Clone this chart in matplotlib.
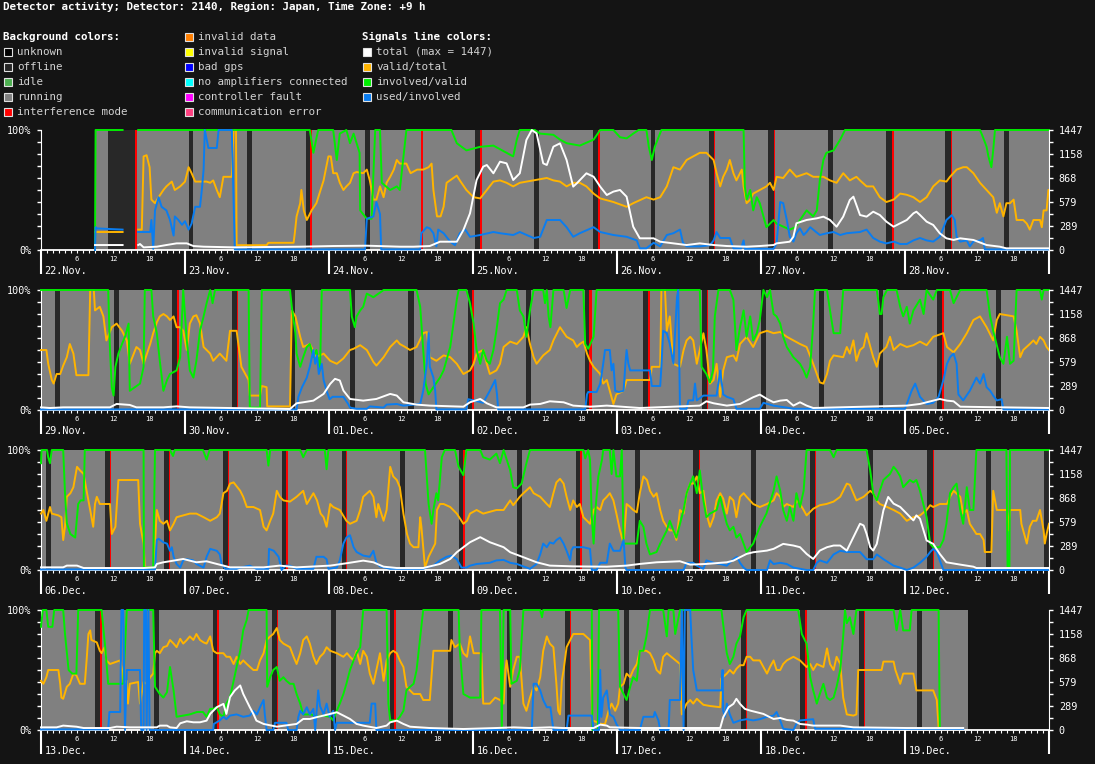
import numpy as np
import matplotlib.pyplot as plt
from matplotlib.patches import Rectangle

nan = np.nan
W, H = 1095, 764
BG = '#141414'
FONT = 'DejaVu Sans Mono'

title = 'Detector activity; Detector: 2140, Region: Japan, Time Zone: +9 h'

# day labels of each panel (7 days per row)
p1_days = ['22.Nov.', '23.Nov.', '24.Nov.', '25.Nov.', '26.Nov.', '27.Nov.', '28.Nov.']
p2_days = ['29.Nov.', '30.Nov.', '01.Dec.', '02.Dec.', '03.Dec.', '04.Dec.', '05.Dec.']
p3_days = ['06.Dec.', '07.Dec.', '08.Dec.', '09.Dec.', '10.Dec.', '11.Dec.', '12.Dec.']
p4_days = ['13.Dec.', '14.Dec.', '15.Dec.', '16.Dec.', '17.Dec.', '18.Dec.', '19.Dec.']

total_max = 1447

# background states, hours from the start of each row
p1_running = (9.0, 168)
p1_offline = [(11.2, 15.7), (24.7, 25.4), (34.3, 35.2), (44.2, 44.9), (54.0, 54.8), (72.3, 73.2),
              (82.2, 83.0), (92.0, 92.8), (101.6, 102.4), (111.3, 112.2), (121.2, 122.1),
              (131.2, 132.0), (140.8, 141.8), (150.7, 151.6), (160.5, 161.3)]
p1_interf = [(15.7, 16.0), (44.9, 45.1), (63.4, 63.7), (73.2, 73.5), (92.8, 93.2), (112.2, 112.4),
             (122.1, 122.3), (141.8, 142.1), (151.6, 151.9)]

p2_running = (0, 168)
p2_offline = [(2.3, 3.2), (12.2, 13.0), (21.9, 22.7), (31.8, 32.6), (41.7, 42.4), (51.5, 52.3),
              (61.2, 62.1), (71.1, 71.8), (80.8, 81.7), (90.7, 91.3), (100.4, 101.2), (110.2, 111.0),
              (120.0, 120.8), (129.7, 130.5), (139.6, 140.3), (149.3, 150.1), (159.2, 160.0)]
p2_interf = [(22.7, 23.0), (32.6, 32.8), (71.8, 72.2), (91.3, 91.8), (101.2, 101.5), (111.0, 111.2),
             (150.1, 150.5)]

p3_running = (0, 168)
p3_offline = [(0.8, 1.6), (10.7, 11.5), (20.5, 21.3), (30.4, 31.2), (40.2, 40.9), (50.1, 50.8),
              (59.8, 60.7), (69.6, 70.3), (79.4, 80.2), (89.2, 89.9), (99.0, 99.8), (108.7, 109.6),
              (118.4, 119.2), (128.1, 129.0), (137.9, 138.7), (147.7, 148.6), (157.5, 158.3),
              (167.2, 168)]
p3_interf = [(11.5, 11.7), (21.3, 21.5), (31.2, 31.4), (40.9, 41.1), (50.8, 51.0), (70.3, 70.6),
             (89.9, 90.1), (109.6, 109.8), (129.0, 129.2), (148.6, 148.8)]

p4_running = (0, 154.5)
p4_offline = [(9.0, 9.8), (18.8, 19.7), (28.7, 29.4), (38.5, 39.3), (48.3, 49.1), (58.1, 58.9),
              (67.8, 68.6), (77.6, 78.4), (87.3, 88.2), (97.2, 98.0), (107.0, 107.6), (116.7, 117.5),
              (126.5, 127.3), (136.4, 137.2), (146.0, 146.8)]
p4_interf = [(9.8, 10.1), (29.4, 29.7), (39.3, 39.5), (58.9, 59.1), (88.2, 88.4), (117.5, 117.7),
             (127.3, 127.6), (137.2, 137.4)]

# ---- row 1: 22.Nov - 28.Nov ----
p1_total = [(9.0, 60), (13.6, 60), (14.0, nan), (16.2, 60), (16.5, 72), (17.1, 32), (19.3, 40), (20.9, 60),
            (22.6, 80), (24.3, 80), (25.4, 48), (27.1, 40), (32.1, 32), (43.2, 40), (48.7, 48), (54.3, 52),
            (59.8, 40), (62.1, 40), (64.8, 48), (66.5, 100), (69.3, 100), (70.4, 241), (71.5, 442),
            (72.6, 844), (73.7, 1005), (74.3, 1025), (75.4, 925), (76.5, 1065), (77.6, 1045), (78.7, 844),
            (79.8, 925), (80.9, 1327), (81.8, 1447), (82.6, 1407), (83.7, 1045), (84.3, 1025), (85.4, 1246),
            (86.5, 1286), (87.6, 1085), (88.7, 764), (89.3, 804), (90.9, 925), (92.1, 884), (93.2, 764),
            (94.3, 663), (95.4, 704), (96.5, 724), (97.6, 643), (98.7, 281), (99.8, 141), (102.1, 141),
            (103.2, 100), (105.4, 80), (107.6, 60), (109.8, 80), (112.1, 60), (114.3, 48), (117.6, 40),
            (119.8, 48), (122.1, 60), (122.6, 80), (124.8, 100), (125.4, 161), (125.9, 322), (127.6, 362),
            (129.3, 382), (130.4, 402), (131.5, 362), (132.6, 281), (133.7, 402), (134.8, 603), (135.4, 643),
            (135.9, 543), (136.5, 422), (137.6, 402), (138.7, 462), (139.8, 422), (140.9, 342), (142.1, 281),
            (143.2, 322), (144.3, 362), (145.4, 442), (145.9, 462), (146.5, 422), (147.6, 342), (148.7, 302),
            (149.8, 201), (150.9, 141), (152.1, 121), (153.2, 141), (155.4, 121), (157.6, 60), (159.8, 40),
            (160.9, 20), (168, 20)]
p1_valid = [(9.0, 15), (13.6, 15), (14.0, nan), (16.2, 17), (16.8, 17), (17.1, 78), (17.6, 79), (18.1, 69),
            (18.4, 42), (19.0, 39), (19.6, 44), (20.4, 50), (20.9, 53), (21.8, 57), (22.3, 50), (23.2, 53),
            (24.0, 57), (24.6, 69), (25.1, 64), (25.7, 57), (27.6, 57), (28.2, 56), (28.7, 58), (29.3, 50),
            (29.8, 44), (30.4, 61), (31.8, 61), (32.1, 100), (32.5, 100), (32.6, 4), (37.6, 4), (37.9, 6),
            (42.1, 6), (42.3, 14), (42.6, 28), (43.2, 39), (43.4, 50), (43.8, 33), (44.3, 25), (45.1, 33),
            (45.9, 39), (47.1, 58), (47.9, 78), (48.3, 78), (48.7, 64), (49.3, 64), (49.8, 56), (50.4, 50),
            (50.9, 53), (51.5, 56), (52.1, 64), (52.6, 65), (53.7, 64), (54.3, 67), (54.8, 58), (55.4, 42),
            (55.9, 42), (56.5, 53), (57.1, 44), (57.6, 56), (58.2, 61), (58.8, 67), (59.3, 75), (59.8, 72),
            (60.9, 72), (61.6, 64), (62.7, 67), (63.7, 67), (64.6, 69), (65.1, 72), (65.4, 50), (66.0, 28),
            (66.6, 28), (67.1, 36), (67.6, 56), (69.3, 62), (69.8, 58), (70.9, 50), (72.1, 44), (73.2, 43),
            (74.3, 50), (75.4, 57), (76.5, 58), (77.6, 56), (78.7, 53), (79.8, 56), (82.1, 58), (84.3, 60),
            (85.4, 58), (86.5, 57), (87.6, 53), (88.7, 56), (89.8, 56), (90.9, 53), (92.1, 47), (93.2, 43),
            (95.4, 40), (97.6, 36), (98.7, 39), (100.9, 44), (102.1, 42), (103.2, 44), (104.3, 53),
            (105.4, 69), (106.5, 67), (107.6, 75), (109.8, 81), (110.9, 81), (112.1, 75), (112.6, 64),
            (113.2, 53), (113.7, 61), (114.3, 67), (114.8, 75), (115.4, 64), (115.9, 58), (116.8, 67),
            (117.1, 53), (117.6, 39), (118.2, 42), (118.7, 47), (119.8, 50), (120.9, 53), (121.5, 56),
            (122.1, 50), (122.6, 61), (123.7, 60), (124.8, 67), (125.9, 61), (127.6, 64), (128.7, 61),
            (130.4, 61), (131.5, 58), (132.6, 56), (133.7, 64), (134.8, 58), (135.9, 61), (136.5, 58),
            (137.6, 53), (138.7, 53), (139.8, 44), (140.9, 40), (142.1, 42), (143.2, 47), (144.3, 46),
            (145.4, 44), (146.5, 40), (147.6, 44), (148.7, 53), (149.8, 58), (150.9, 57), (151.5, 61),
            (152.6, 67), (153.7, 69), (154.3, 69), (155.4, 64), (156.5, 56), (157.6, 50), (158.7, 44),
            (159.3, 31), (159.8, 39), (160.4, 28), (160.9, 39), (161.5, 39), (162.1, 42), (162.6, 25),
            (163.7, 25), (164.3, 22), (164.8, 17), (165.4, 25), (166.5, 25), (166.8, 19), (167.1, 33),
            (167.6, 33), (167.9, 50), (168, 50)]
p1_involved = [(9.0, 0), (9.05, 50), (9.1, 100), (13.6, 100), (14.0, nan), (16.2, 100), (44.8, 100),
               (45.4, 81), (46.2, 100), (48.7, 100), (49.3, 75), (49.8, 97), (50.9, 100), (51.5, 89),
               (52.1, 97), (52.6, 89), (53.1, 81), (53.2, 33), (54.3, 26), (55.1, 26), (55.7, 100),
               (56.5, 100), (56.8, 56), (58.2, 50), (59.3, 53), (59.8, 50), (60.9, 100), (68.4, 100),
               (69.3, 89), (70.9, 83), (73.2, 86), (75.4, 87), (77.6, 81), (78.7, 78), (79.3, 92),
               (79.8, 100), (82.3, 100), (83.2, 97), (85.4, 96), (86.5, 92), (87.6, 89), (89.8, 87),
               (92.1, 92), (93.2, 100), (95.4, 100), (96.5, 94), (97.6, 93), (98.7, 97), (99.6, 100),
               (100.9, 100), (101.3, 86), (101.8, 75), (102.3, 86), (103.4, 100), (117.1, 100), (117.3, 53),
               (117.6, 42), (118.2, 50), (118.7, 33), (119.3, 44), (119.8, 39), (120.9, 19), (122.1, 25),
               (122.6, 22), (124.8, 17), (125.7, 19), (126.5, 25), (127.6, 33), (128.7, 28), (129.3, 33),
               (129.8, 58), (130.4, 75), (130.9, 81), (132.1, 83), (133.2, 92), (134.0, 100), (156.5, 100),
               (157.0, 94), (157.6, 86), (157.9, 78), (158.4, 69), (158.7, 83), (159.0, 100), (168, 100)]
p1_used = [(9.0, 0), (9.1, 19), (9.3, 18), (13.6, 17), (14.0, nan), (16.2, 15), (18.2, 15), (18.4, 25),
           (18.7, 1), (19.0, 33), (19.6, 44), (20.1, 36), (20.9, 33), (21.5, 25), (22.1, 12), (22.3, 28),
           (22.9, 25), (23.5, 21), (24.0, 24), (24.6, 17), (25.1, 22), (25.7, 36), (26.5, 36), (26.8, 50),
           (27.1, 67), (27.3, 100), (27.9, 85), (29.3, 85), (29.6, 100), (31.8, 100), (32.3, 0.5),
           (54.0, 0.5), (54.3, 26), (55.4, 28), (55.9, 40), (56.5, 30), (56.7, 0.5), (63.2, 0.5),
           (63.4, 14), (64.3, 19), (64.8, 18), (65.4, 14), (65.9, 3), (66.2, 17), (67.1, 14), (68.2, 7),
           (69.0, 4), (69.8, 14), (70.7, 17), (71.5, 11), (73.2, 12.5), (75.4, 15), (76.5, 14), (78.7, 12.5),
           (79.8, 15), (82.1, 10), (83.2, 11), (84.3, 25), (86.5, 25), (87.6, 19), (88.7, 11), (89.8, 14),
           (92.1, 19), (93.2, 15), (95.4, 12.5), (97.6, 11), (99.3, 8), (99.8, 1.4), (100.9, 1.4),
           (102.1, 6), (103.2, 3), (104.3, 12.5), (105.4, 14), (106.5, 17), (107.0, 6), (107.6, 3),
           (109.8, 3), (111.5, 4), (112.1, 8), (112.6, 15), (113.2, 10), (114.8, 10), (115.4, 1.4),
           (116.7, 1.4), (117.1, 8), (117.3, 1), (122.1, 1), (122.6, 5.5), (123.2, 40), (123.7, 39),
           (124.3, 25), (124.8, 11), (125.4, 7), (125.9, 14), (126.5, 18), (127.1, 12.5), (127.6, 15),
           (128.2, 19), (128.7, 17), (129.8, 12.5), (131.0, 14), (132.1, 15), (133.2, 12.5), (134.3, 14),
           (136.5, 15), (137.6, 17), (138.7, 10), (139.8, 7), (140.9, 5.5), (142.1, 7), (143.2, 5),
           (144.3, 5), (145.4, 8), (146.5, 10), (147.6, 8), (148.7, 7), (149.8, 11), (150.9, 25),
           (151.8, 29), (152.3, 25), (152.6, 11), (153.2, 7), (154.3, 8), (154.8, 3), (155.4, 7),
           (156.5, 8), (157.0, 10), (157.3, 0.5), (168, 0.5)]

# ---- row 2: 29.Nov - 05.Dec ----
p2_total = [(0, 32), (1.5, 24), (3.7, 32), (11.5, 32), (12.6, 73), (14.8, 61), (15.9, 32), (20.4, 32),
            (22.6, 44), (24.8, 32), (31.5, 24), (41.5, 12), (42.6, 81), (43.7, 93), (45.4, 113), (47.1, 194),
            (48.2, 315), (49.0, 376), (49.8, 356), (50.4, 234), (51.5, 133), (53.7, 113), (55.9, 133),
            (58.2, 194), (59.3, 174), (60.4, 93), (62.6, 65), (64.8, 53), (70.4, 40), (71.5, 93), (73.2, 133),
            (74.3, 81), (75.9, 32), (80.4, 32), (81.5, 65), (83.2, 73), (84.8, 105), (87.1, 93), (88.7, 53),
            (91.5, 40), (94.3, 53), (99.8, 24), (109.8, 53), (110.9, 105), (112.1, 81), (114.3, 53),
            (116.5, 73), (117.6, 113), (118.7, 154), (119.8, 186), (121.0, 133), (122.1, 93), (123.2, 113),
            (124.3, 121), (125.4, 53), (126.5, 93), (127.6, 53), (128.7, 24), (144.3, 53), (146.5, 73),
            (147.6, 93), (149.8, 133), (151.0, 113), (152.1, 105), (153.2, 40), (160.4, 32), (168, 24)]
p2_valid = [(0, 50), (0.9, 50), (1.2, 38.5), (1.8, 25), (2.1, 22), (2.6, 30), (3.2, 30), (3.7, 37), (4.3, 44),
            (4.8, 55), (5.4, 47), (5.9, 29), (7.9, 29), (8.2, 100), (8.8, 100), (9.0, 83), (9.8, 86),
            (10.4, 78), (10.9, 58), (11.8, 69), (12.6, 72), (13.5, 66), (14.3, 58), (14.8, 38.5),
            (15.9, 52.5), (16.5, 50), (17.1, 38.5), (18.2, 55), (18.7, 64), (19.3, 73), (19.8, 78),
            (20.4, 80), (21.0, 78), (21.5, 75), (22.1, 78), (22.6, 69), (23.2, 69), (23.7, 66), (24.3, 50),
            (24.8, 72), (25.4, 78), (25.9, 79), (26.5, 72), (27.1, 52.5), (28.2, 47), (28.7, 41), (29.8, 47),
            (30.9, 41), (31.5, 66), (32.6, 66), (32.9, 55), (33.4, 36), (34.6, 25), (34.8, 12), (36.5, 12),
            (36.8, 20), (37.6, 19), (37.7, 3), (41.5, 3), (41.8, 83), (42.4, 78), (43.2, 61), (43.7, 52.5),
            (44.8, 55), (45.9, 44), (47.1, 47), (48.2, 41), (49.3, 38.5), (50.4, 43), (51.5, 50), (52.1, 51),
            (53.2, 54), (54.3, 50), (55.4, 40), (55.9, 37), (57.1, 44), (58.2, 52.5), (59.3, 58), (59.8, 55),
            (60.7, 52.5), (61.5, 50), (62.6, 52.5), (63.7, 64), (64.3, 65), (64.8, 44), (65.9, 41),
            (67.1, 45.5), (68.2, 44), (69.3, 38.5), (70.4, 30), (71.5, 33), (72.1, 38.5), (72.6, 47),
            (73.7, 50), (74.3, 38.5), (74.8, 30), (75.9, 33), (76.5, 38.5), (77.1, 52.5), (78.2, 57),
            (79.3, 55), (80.4, 61), (80.9, 69), (81.5, 55), (82.1, 44), (82.6, 38.5), (83.7, 45.5), (84.8, 50),
            (85.4, 58), (86.5, 69), (87.6, 61), (88.7, 58), (89.3, 52.5), (89.8, 55), (90.4, 57), (91.0, 47),
            (91.5, 41), (92.1, 36), (93.2, 30), (93.7, 22), (94.3, 25), (94.8, 16), (95.4, 5), (95.9, 13),
            (97.1, 16), (97.6, 25), (101.5, 25), (101.8, 36), (103.2, 36), (103.4, 100), (104.0, 100),
            (104.3, 66), (104.8, 78), (105.4, 38.5), (106.5, 36), (107.1, 50), (107.6, 58), (108.2, 61),
            (108.7, 58), (109.3, 38.5), (109.8, 50), (110.4, 64), (110.9, 50), (111.5, 22), (112.1, 25),
            (112.6, 38.5), (113.2, 11), (113.7, 33), (114.3, 44), (115.4, 45.5), (115.9, 41), (116.5, 55),
            (117.6, 61), (118.7, 52.5), (119.8, 64), (121.0, 66), (122.1, 64), (123.2, 65), (124.3, 61),
            (125.4, 58), (126.5, 55), (127.6, 52.5), (128.7, 38.5), (129.3, 30), (129.8, 23), (130.4, 22),
            (131.0, 30), (131.5, 41), (132.1, 45.5), (133.7, 44), (134.3, 52.5), (134.8, 47), (135.4, 58),
            (135.9, 41), (136.5, 50), (137.1, 52.5), (137.6, 64), (138.7, 44), (139.3, 36), (139.8, 47),
            (140.9, 52.5), (141.5, 61), (142.1, 50), (143.2, 55), (144.3, 52.5), (145.4, 54), (146.5, 57),
            (147.6, 54), (148.7, 61), (150.4, 64), (151.0, 52.5), (152.1, 48), (153.2, 55), (154.3, 64),
            (155.4, 75), (156.5, 78), (157.6, 69), (158.7, 58), (159.3, 75), (159.8, 80), (162.1, 78),
            (162.6, 66), (163.2, 44), (163.7, 50), (164.8, 55), (165.4, 58), (165.9, 55), (166.5, 61),
            (167.1, 58), (167.6, 52.5), (168, 50)]
p2_involved = [(0, 100), (11.2, 100), (11.5, 50), (11.8, 19), (12.1, 12), (12.4, 36), (12.9, 47), (13.5, 55),
               (14.0, 61), (14.6, 72), (14.8, 16), (16.5, 22), (17.1, 36), (17.3, 100), (18.4, 100),
               (18.7, 78), (19.3, 64), (19.8, 41), (20.4, 16), (21.0, 25), (21.5, 30), (22.6, 33), (23.2, 44),
               (23.7, 100), (24.3, 58), (24.8, 33), (25.4, 27), (25.9, 41), (26.5, 66), (27.1, 78), (27.6, 89),
               (28.2, 100), (28.6, 89), (29.0, 100), (34.6, 100), (34.8, 2), (36.5, 2), (36.8, 100),
               (41.5, 100), (41.8, 86), (42.4, 64), (42.6, 47), (43.2, 36), (43.7, 44), (44.3, 52.5),
               (44.8, 55), (45.4, 44), (45.9, 50), (46.5, 33), (46.8, 100), (51.5, 100), (51.8, 78),
               (52.3, 69), (52.6, 78), (53.2, 83), (53.7, 86), (54.3, 97), (55.4, 94), (57.1, 100),
               (62.6, 100), (63.2, 86), (63.7, 50), (64.1, 22), (64.6, 13), (65.4, 19), (66.5, 27), (67.1, 33),
               (68.2, 52.5), (69.3, 92), (69.6, 100), (70.9, 100), (71.5, 89), (72.1, 72), (72.6, 50),
               (73.2, 38.5), (73.7, 50), (74.3, 41), (74.8, 38.5), (75.4, 50), (75.9, 66), (76.5, 89),
               (77.1, 92), (77.6, 100), (79.3, 100), (79.8, 83), (80.4, 78), (80.9, 61), (81.5, 83),
               (82.1, 100), (83.7, 100), (84.0, 89), (84.3, 100), (84.6, 78), (84.9, 69), (85.4, 100),
               (87.1, 100), (87.6, 85), (88.2, 100), (90.4, 100), (90.7, 55), (91.2, 51), (92.1, 61),
               (92.6, 100), (109.8, 100), (110.1, 36), (110.9, 30), (111.5, 23), (112.0, 33), (112.3, 78),
               (112.9, 100), (114.8, 100), (115.4, 92), (115.9, 50), (116.5, 69), (117.1, 83), (117.6, 61),
               (118.2, 78), (118.7, 58), (119.3, 64), (119.8, 75), (120.4, 100), (121.0, 94), (121.5, 100),
               (122.1, 80), (122.6, 78), (123.2, 72), (123.7, 61), (124.3, 52.5), (125.4, 44), (126.5, 38.5),
               (127.1, 33), (127.6, 27), (128.2, 36), (128.7, 72), (129.0, 100), (131.0, 100), (131.5, 83),
               (132.1, 64), (133.2, 64), (133.7, 100), (139.3, 100), (139.6, 89), (139.8, 80), (140.1, 80),
               (140.4, 94), (141.0, 100), (142.6, 100), (143.2, 86), (143.7, 78), (144.3, 86), (144.8, 72),
               (145.4, 83), (146.5, 92), (147.1, 80), (147.6, 100), (148.7, 92), (149.3, 100), (151.5, 100),
               (152.1, 89), (152.6, 94), (153.2, 100), (157.6, 100), (158.2, 78), (158.7, 66), (159.8, 44),
               (160.4, 38.5), (161.0, 61), (161.5, 38.5), (162.1, 41), (162.6, 100), (166.5, 100),
               (166.8, 92), (167.1, 100), (168, 100)]
p2_used = [(0, 0.5), (42.6, 0.5), (42.9, 11), (43.5, 19), (44.3, 27), (44.8, 36), (45.4, 50), (45.7, 38.5),
           (46.0, 45.5), (46.3, 30), (46.8, 38.5), (47.1, 25), (47.6, 16), (48.1, 9), (48.6, 11), (50.4, 11),
           (51.2, 5), (51.5, 2), (52.6, 1), (54.3, 1), (54.8, 3), (57.1, 2), (57.6, 4.5), (59.3, 5),
           (60.4, 3.6), (63.2, 5), (63.7, 16), (64.3, 38.5), (64.6, 64), (64.8, 36), (65.4, 27), (65.7, 16),
           (65.9, 0.5), (70.9, 0.5), (71.2, 9), (72.1, 8), (73.7, 6), (74.8, 16), (75.7, 25), (76.0, 13),
           (76.2, 0.5), (90.7, 0.5), (91.0, 13), (91.2, 15), (92.6, 15), (93.2, 22), (93.7, 38.5), (94.0, 50),
           (94.8, 50), (95.1, 33), (95.4, 38.5), (95.7, 16), (96.3, 15), (97.1, 16), (97.4, 38.5),
           (97.6, 50), (97.9, 38.5), (98.2, 33), (101.5, 33), (101.8, 20), (103.2, 20), (103.4, 36),
           (103.7, 66), (104.3, 64), (104.8, 55), (105.4, 38.5), (106.0, 94), (106.2, 100), (106.5, 1),
           (107.6, 1), (107.9, 8), (108.7, 8), (109.0, 22), (109.3, 8), (110.4, 12), (112.6, 12), (113.2, 33),
           (113.7, 13), (114.3, 11), (115.4, 9), (115.9, 1), (119.8, 1), (120.4, 6), (122.1, 3.6), (124.3, 2),
           (125.4, 1), (144.0, 1), (144.3, 5), (145.1, 16), (145.7, 22), (146.5, 11), (147.6, 5), (148.7, 6),
           (149.6, 11), (150.4, 25), (151.0, 38.5), (151.5, 44), (152.1, 47), (152.6, 38.5), (152.9, 13),
           (153.7, 8), (154.8, 16), (155.4, 22), (155.9, 27), (156.5, 22), (157.1, 30), (157.6, 19),
           (158.2, 16), (158.7, 12), (159.3, 8), (160.1, 9), (160.4, 0.5), (168, 0.5)]

# ---- row 3: 06.Dec - 12.Dec ----
p3_total = [(0, 32), (3.7, 32), (4.3, 53), (6.0, 53), (7.1, 24), (17.1, 24), (19.0, 32), (19.3, 73),
            (20.4, 93), (22.1, 113), (23.7, 133), (24.8, 113), (25.9, 93), (27.6, 105), (29.3, 73), (30.4, 53),
            (31.5, 32), (37.1, 32), (39.8, 53), (42.6, 32), (48.2, 53), (50.9, 81), (53.7, 113), (55.4, 93),
            (57.1, 40), (59.3, 24), (63.7, 24), (66.5, 73), (68.2, 133), (69.3, 214), (70.4, 275), (71.5, 335),
            (73.2, 396), (74.8, 335), (77.1, 275), (78.2, 214), (80.4, 154), (82.6, 93), (84.8, 53),
            (88.7, 44), (94.3, 40), (97.6, 53), (99.8, 73), (102.6, 93), (106.5, 105), (108.2, 65),
            (110.9, 73), (114.3, 93), (115.4, 113), (116.5, 154), (117.6, 194), (118.7, 214), (121.0, 234),
            (122.1, 255), (123.7, 315), (125.4, 295), (126.5, 275), (127.6, 194), (128.7, 133), (129.8, 234),
            (131.0, 275), (132.1, 295), (133.2, 295), (134.3, 234), (135.4, 396), (136.5, 558), (137.1, 537),
            (137.6, 436), (138.2, 275), (138.7, 234), (139.3, 315), (140.4, 719), (141.2, 881), (142.1, 800),
            (143.2, 760), (144.3, 679), (145.4, 598), (145.9, 659), (146.5, 618), (147.6, 356), (148.7, 315),
            (149.8, 194), (150.9, 93), (153.2, 65), (155.4, 40), (155.9, 24), (168, 24)]
p3_valid = [(0, 47), (0.4, 50), (0.9, 41), (1.5, 52.5), (1.8, 47), (2.9, 45.5), (3.4, 44), (3.7, 25), (4.0, 36),
            (4.3, 61), (4.9, 64), (5.4, 69), (6.0, 86), (6.5, 83), (7.1, 80), (7.6, 66), (8.2, 50), (8.7, 36),
            (9.0, 55), (9.3, 61), (9.8, 55), (11.5, 55), (11.8, 30), (12.4, 36), (12.9, 75), (16.2, 75),
            (16.5, 38.5), (17.1, 22), (17.3, 2), (18.8, 2), (19.0, 22), (19.3, 50), (19.8, 41), (20.4, 38.5),
            (21.0, 41), (21.5, 33), (22.1, 38.5), (22.6, 44), (23.7, 45.5), (24.8, 47), (25.9, 47), (27.1, 44),
            (28.2, 41), (29.3, 44), (29.8, 47), (30.1, 55), (30.4, 64), (31.0, 66), (31.5, 72), (32.1, 73),
            (33.2, 66), (33.7, 61), (34.3, 52.5), (35.4, 52.5), (36.5, 50), (37.1, 36), (37.6, 33), (38.2, 41),
            (38.7, 47), (39.3, 66), (39.8, 61), (40.4, 58), (41.5, 57), (42.6, 61), (43.7, 66), (44.3, 55),
            (45.4, 64), (46.0, 58), (46.6, 47), (47.1, 44), (47.6, 36), (48.2, 55), (48.7, 52.5), (49.8, 50),
            (50.9, 41), (51.5, 38.5), (52.6, 41), (53.2, 50), (53.7, 61), (54.8, 66), (55.4, 61), (55.9, 44),
            (56.2, 55), (57.1, 41), (57.6, 50), (58.2, 86), (58.7, 78), (59.3, 75), (59.8, 69), (60.4, 47),
            (61.0, 30), (61.5, 22), (62.1, 19), (62.9, 19), (63.2, 44), (63.4, 36), (64.0, 2), (64.6, 11),
            (65.1, 16), (65.7, 22), (66.0, 50), (66.5, 55), (67.1, 55), (68.2, 52.5), (69.3, 47), (70.4, 38.5),
            (71.0, 41), (71.5, 47), (72.6, 50), (73.7, 47), (75.9, 50), (77.1, 50), (78.2, 58), (78.7, 54),
            (79.8, 61), (80.4, 64), (81.5, 69), (82.1, 64), (83.2, 61), (84.3, 55), (84.8, 52.5), (85.4, 64),
            (85.9, 73), (86.5, 76), (87.1, 72), (87.6, 61), (88.2, 50), (88.7, 58), (89.3, 52.5), (89.8, 55),
            (90.4, 44), (91.0, 41), (91.5, 38.5), (92.1, 50), (92.6, 52.5), (93.2, 50), (93.7, 58), (94.3, 61),
            (94.8, 64), (95.4, 58), (95.9, 47), (96.5, 33), (97.1, 22), (97.6, 55), (98.2, 52.5), (98.7, 50),
            (99.3, 48), (99.8, 64), (100.4, 78), (101.0, 75), (101.5, 66), (102.1, 61), (102.6, 64),
            (103.2, 50), (103.7, 41), (104.3, 36), (104.8, 33), (105.4, 33), (105.9, 25), (106.5, 50),
            (107.1, 47), (107.6, 64), (108.2, 72), (108.7, 72), (109.3, 78), (109.8, 64), (110.4, 66),
            (110.9, 47), (111.5, 36), (112.1, 44), (112.6, 58), (113.2, 64), (113.7, 59.5), (114.3, 47),
            (114.8, 61), (115.4, 58), (115.9, 44), (116.5, 61), (117.1, 64), (117.6, 61), (118.7, 55),
            (119.8, 52.5), (121.0, 55), (122.1, 58), (122.6, 64), (123.2, 61), (123.7, 52.5), (124.3, 55),
            (125.4, 52.5), (126.0, 58), (126.5, 55), (127.1, 50), (127.6, 45.5), (128.7, 51), (129.8, 54),
            (130.9, 55), (132.1, 57), (133.2, 61), (134.3, 72), (134.8, 71), (135.4, 64), (135.9, 58),
            (137.1, 61), (138.2, 66), (138.7, 64), (139.3, 58), (139.8, 55), (141.0, 52.5), (142.1, 50),
            (143.2, 47), (144.3, 41), (145.4, 44), (146.5, 45.5), (147.6, 50), (148.2, 54), (148.7, 52.5),
            (149.8, 55), (151.0, 55), (151.5, 61), (152.1, 66), (153.2, 61), (153.7, 47), (154.3, 50),
            (154.8, 38.5), (155.9, 30), (156.5, 30), (157.1, 25), (157.3, 15), (158.4, 15), (158.7, 66),
            (159.3, 50), (161.0, 50), (161.2, 33), (161.5, 50), (163.2, 50), (163.4, 38.5), (164.3, 22),
            (164.8, 36), (165.3, 41), (165.9, 41), (166.5, 50), (167.1, 33), (167.3, 22), (167.6, 30),
            (168, 38.5)]
p3_involved = [(0, 89), (0.1, 100), (1.0, 100), (1.2, 94), (1.5, 89), (1.8, 100), (3.7, 100), (4.0, 64),
               (4.3, 39), (4.9, 30), (5.7, 27), (6.2, 55), (6.6, 58), (7.1, 58), (7.3, 100), (17.1, 100),
               (17.15, 2), (18.7, 2), (19.0, 100), (21.5, 100), (22.0, 95), (22.3, 100), (27.0, 100),
               (27.6, 92), (28.1, 100), (37.6, 100), (37.9, 87), (38.2, 100), (43.2, 100), (43.7, 94),
               (44.3, 100), (47.3, 100), (47.6, 84), (47.9, 100), (64.0, 100), (64.6, 55), (65.1, 38.5),
               (65.4, 50), (65.9, 64), (66.2, 58), (66.8, 94), (67.3, 100), (69.0, 100), (69.6, 86),
               (70.4, 79), (70.9, 100), (73.2, 100), (73.7, 94), (74.8, 92), (75.9, 97), (76.5, 89), (77.1, 100),
               (78.2, 83), (78.7, 69), (79.3, 68), (80.1, 72), (80.9, 89), (81.5, 100), (90.4, 100),
               (90.7, 93), (91.2, 100), (91.5, 92), (91.8, 44), (92.1, 22), (92.4, 50), (92.9, 78), (93.5, 92),
               (93.7, 100), (94.8, 100), (95.1, 80), (95.4, 100), (95.9, 78), (96.5, 78), (96.8, 100),
               (97.1, 22), (99.3, 22), (99.8, 41), (100.4, 36), (100.9, 22), (101.5, 13), (102.6, 15),
               (103.2, 22), (104.3, 33), (104.8, 41), (105.4, 33), (105.9, 27), (106.5, 38.5), (107.1, 50),
               (107.6, 64), (108.2, 72), (108.7, 78), (109.3, 64), (109.8, 83), (110.4, 58), (110.9, 44),
               (111.5, 47), (112.6, 50), (113.2, 61), (113.7, 50), (114.3, 38.5), (114.8, 33), (115.4, 36),
               (115.9, 27), (116.5, 30), (117.1, 22), (117.6, 15), (118.2, 19), (118.7, 22), (119.8, 36),
               (120.9, 47), (122.1, 66), (122.6, 78), (123.2, 66), (123.7, 50), (124.3, 41), (124.8, 52.5),
               (125.4, 41), (125.9, 64), (126.5, 52.5), (127.1, 66), (127.6, 100), (131.5, 100), (132.1, 94),
               (132.6, 100), (137.6, 100), (138.2, 83), (138.7, 64), (139.3, 58), (139.8, 66), (140.4, 75),
               (141.5, 80), (142.1, 86), (142.6, 83), (143.2, 78), (143.7, 69), (144.8, 75), (145.4, 73),
               (145.9, 75), (146.5, 66), (147.6, 44), (148.2, 22), (148.7, 19), (149.8, 19), (150.4, 25),
               (150.9, 38.5), (151.5, 64), (152.1, 69), (152.6, 72), (153.2, 50), (153.7, 38.5), (154.3, 69),
               (154.8, 50), (155.4, 50), (155.9, 100), (160.9, 100), (161.1, 0), (161.4, 0), (161.5, 100),
               (168, 100)]
p3_used = [(0, 0.5), (19.0, 0.5), (19.3, 25), (19.6, 26), (20.4, 23), (21.0, 22), (21.5, 16), (21.8, 19),
           (22.1, 11), (22.6, 5), (23.2, 2), (23.7, 8), (24.3, 9), (25.4, 8), (25.9, 5), (27.1, 2), (27.6, 11),
           (28.2, 17.6), (29.3, 16), (29.8, 13), (30.1, 5), (30.7, 1), (32.6, 1), (33.2, 2), (34.8, 3.6),
           (35.9, 1), (37.9, 1), (38.0, 17.6), (38.8, 16), (39.6, 11), (40.1, 0), (40.7, 3.6), (41.5, 3.6),
           (42.6, 1), (45.4, 1), (45.9, 11), (47.1, 11), (47.6, 9), (47.9, 1), (49.3, 2), (49.8, 8), (50.4, 22),
           (50.9, 27), (51.5, 29), (52.1, 19), (52.6, 15), (53.7, 12), (54.8, 11), (55.4, 16), (55.9, 6),
           (56.5, 3), (58.2, 1), (63.7, 1), (64.2, 2), (65.4, 3.6), (66.5, 8), (67.6, 11), (68.4, 12),
           (69.3, 9), (70.1, 2), (70.9, 2), (71.5, 3.6), (72.6, 5), (74.8, 6), (75.9, 8), (77.1, 8.4),
           (78.2, 6), (79.3, 5), (80.4, 3), (81.5, 1), (82.6, 5), (83.2, 13), (83.7, 22), (84.3, 19),
           (84.8, 23), (85.4, 22), (85.9, 25), (86.5, 27), (87.1, 22), (87.6, 16), (88.2, 8), (88.4, 16),
           (88.7, 19), (90.4, 19), (91.5, 17.6), (91.8, 0), (92.6, 0), (93.2, 6), (94.3, 6), (94.8, 22),
           (95.4, 16), (96.5, 16), (97.1, 25), (97.4, 2), (97.6, 0), (107.1, 0), (107.6, 6), (108.7, 6),
           (109.3, 3.6), (110.4, 1), (110.9, 8), (112.1, 6), (113.2, 5), (114.3, 3.6), (115.4, 9), (116.0, 11),
           (116.5, 6), (117.1, 2), (117.6, 0), (121.0, 0), (121.5, 8), (122.1, 5), (123.2, 6), (124.3, 5),
           (125.4, 2), (126.5, 1), (127.6, 0), (128.7, 0), (129.3, 6), (129.8, 8), (131.0, 6), (132.1, 13),
           (133.2, 16), (134.3, 15), (136.5, 15), (137.6, 9), (138.7, 9), (139.3, 13), (140.4, 9),
           (142.1, 3.6), (143.2, 2), (144.3, 0), (145.4, 2), (146.5, 6), (147.6, 11), (148.2, 15),
           (148.7, 17.6), (149.3, 15), (149.8, 8), (150.4, 0), (168, 0)]

# ---- row 4: 13.Dec - 19.Dec ----
p4_total = [(0, 32), (2.6, 32), (3.7, 53), (5.9, 40), (7.1, 24), (11.5, 24), (12.6, 40), (14.8, 32), (19.3, 32),
            (19.8, 53), (21.0, 53), (21.5, 32), (22.6, 24), (23.2, 81), (24.3, 105), (25.4, 93), (26.5, 93),
            (27.6, 113), (28.2, 194), (29.3, 275), (30.4, 315), (30.9, 194), (31.5, 396), (32.3, 477),
            (33.2, 537), (33.7, 436), (34.8, 275), (35.4, 194), (35.9, 113), (37.1, 73), (39.3, 40),
            (42.6, 73), (43.7, 133), (44.8, 133), (45.9, 154), (47.1, 174), (48.2, 194), (49.3, 214),
            (50.4, 174), (51.5, 133), (52.6, 73), (53.7, 53), (55.9, 24), (57.6, 53), (58.2, 93), (59.3, 113),
            (60.4, 73), (61.5, 40), (64.8, 24), (70.4, 12), (75.9, 24), (78.8, 32), (81.5, 24), (84.8, 32),
            (87.0, 24), (92.1, 24), (93.2, 65), (94.3, 53), (94.8, 32), (99.8, 24), (113.2, 24), (113.7, 154),
            (114.6, 275), (115.4, 315), (115.9, 376), (116.5, 315), (117.3, 255), (118.2, 234), (119.3, 214),
            (120.4, 194), (121.5, 154), (122.1, 133), (123.2, 145), (124.3, 121), (125.4, 113), (126.5, 73),
            (127.6, 65), (128.7, 53), (133.2, 53), (135.4, 32), (144.3, 24), (153.7, 24)]
p4_valid = [(0, 41), (0.4, 38.5), (0.9, 44), (1.2, 50), (2.9, 50), (3.2, 38.5), (3.4, 27), (3.7, 26), (4.3, 36),
            (4.8, 38.5), (5.4, 47), (5.9, 45.5), (6.5, 38.5), (7.3, 38.5), (7.6, 58), (7.9, 80), (8.2, 83),
            (8.4, 75), (9.3, 73), (9.8, 66), (10.1, 64), (10.6, 69), (10.9, 58), (11.5, 55), (13.2, 58),
            (13.5, 50), (13.7, 38.5), (14.3, 41), (14.5, 22), (14.8, 38.5), (16.2, 40), (16.5, 22), (17.1, 40),
            (17.6, 38.5), (18.2, 44), (18.7, 47), (19.0, 64), (19.3, 66), (19.8, 64), (20.4, 69), (21.0, 70),
            (21.5, 75), (22.1, 72), (22.6, 69), (23.2, 76), (23.7, 72), (24.3, 75), (24.8, 78), (25.4, 75),
            (25.9, 80), (26.5, 75), (27.1, 73), (27.6, 72), (28.2, 78), (28.7, 66), (29.3, 64), (30.4, 64),
            (30.9, 61), (31.5, 61), (32.1, 55), (32.6, 61), (33.2, 55), (33.7, 58), (34.3, 55), (35.4, 50),
            (36.0, 50), (36.5, 58), (37.1, 64), (37.6, 75), (38.2, 78), (38.7, 80), (39.3, 85), (39.8, 75),
            (40.4, 72), (41.5, 69), (42.1, 61), (42.6, 55), (43.2, 64), (43.7, 75), (44.3, 78), (44.8, 72),
            (45.4, 61), (45.9, 55), (46.5, 61), (47.1, 64), (47.6, 69), (48.2, 66), (49.3, 64), (50.4, 61),
            (51.0, 64), (51.5, 61), (52.1, 58), (52.6, 66), (53.2, 55), (53.7, 66), (54.3, 61), (54.8, 47),
            (55.4, 38.5), (55.9, 50), (56.5, 64), (57.1, 41), (57.6, 58), (58.2, 64), (58.7, 66), (59.3, 64),
            (59.8, 58), (60.4, 52.5), (60.9, 36), (61.5, 33), (62.1, 30), (63.2, 30), (63.7, 25), (64.8, 25),
            (65.4, 66), (68.2, 66), (68.4, 75), (69.0, 69), (69.8, 72), (70.4, 64), (71.0, 61), (71.5, 78),
            (72.1, 64), (73.4, 64), (73.7, 22), (74.8, 22), (75.7, 27), (76.5, 25), (77.1, 22), (77.4, 50),
            (77.6, 58), (78.2, 36), (78.7, 50), (79.3, 61), (79.8, 61), (80.4, 22), (80.9, 16), (81.5, 27),
            (82.1, 36), (82.6, 33), (83.2, 44), (83.7, 66), (84.3, 78), (84.8, 72), (85.4, 69), (85.9, 38.5),
            (86.2, 16), (86.5, 13), (86.8, 41), (87.1, 50), (87.6, 69), (88.2, 75), (88.7, 80), (90.4, 80),
            (91.5, 75), (91.9, 8), (93.4, 5), (94.0, 5), (94.6, 16), (95.1, 22), (95.7, 16), (96.2, 22),
            (96.5, 36), (97.1, 38.5), (97.6, 47), (98.2, 44), (98.7, 50), (99.3, 55), (99.8, 66), (100.9, 66),
            (101.5, 64), (102.1, 58), (102.6, 50), (103.2, 47), (103.7, 61), (104.3, 64), (105.4, 59.5),
            (106.5, 55), (106.8, 13), (107.6, 22), (108.2, 25), (108.7, 22), (109.3, 26), (110.4, 21),
            (111.5, 20), (113.2, 19), (113.4, 43), (114.3, 47), (114.8, 50), (115.4, 47), (115.9, 51),
            (116.5, 54), (117.1, 54), (117.6, 61), (118.2, 61), (118.7, 58), (119.8, 58), (120.4, 52.5),
            (121.0, 47), (121.5, 52.5), (122.1, 58), (122.6, 50), (123.2, 50), (123.7, 55), (124.3, 58),
            (125.4, 61), (126.5, 58), (127.1, 55), (127.6, 52.5), (128.2, 55), (128.7, 50), (129.3, 55),
            (130.4, 52.5), (131.0, 68), (131.5, 55), (132.1, 50), (132.6, 61), (133.2, 55), (133.7, 27),
            (134.3, 13), (135.4, 12), (135.9, 13), (136.2, 50), (140.1, 50), (140.4, 57), (142.1, 57),
            (142.4, 50), (143.2, 38.5), (143.7, 47), (145.4, 47), (145.9, 33), (148.7, 33), (149.3, 25),
            (149.6, 2)]
p4_involved = [(0, 86), (0.3, 100), (0.9, 100), (1.2, 86), (1.9, 86), (2.2, 100), (3.7, 100), (4.0, 80),
               (4.6, 50), (5.2, 47), (5.9, 47), (6.2, 100), (10.1, 100), (10.7, 69), (11.2, 38.5), (13.7, 38.5),
               (14.3, 100), (18.7, 100), (19.0, 36), (19.8, 30), (20.4, 27), (21.0, 31.5), (21.5, 52.5),
               (22.1, 33), (22.6, 11), (23.7, 12), (24.8, 13), (26.0, 15), (27.0, 15), (27.6, 11),
               (28.2, 17.6), (28.7, 17.6), (29.3, 19), (29.8, 13), (30.4, 11), (30.9, 22), (31.5, 27),
               (32.1, 41), (32.6, 52.5), (33.2, 66), (33.7, 83), (34.3, 92), (34.6, 100), (37.6, 100),
               (37.7, 36), (38.2, 44), (38.7, 50), (39.3, 52.5), (39.8, 41), (40.4, 44), (40.9, 41),
               (41.5, 38.5), (42.1, 38.5), (42.6, 30), (43.2, 22), (43.7, 13), (45.0, 13), (46.0, 11),
               (47.1, 12), (48.2, 11), (48.7, 8), (49.3, 16), (49.8, 22), (50.4, 30), (50.9, 38.5), (51.5, 50),
               (52.1, 58), (52.6, 64), (53.2, 69), (53.7, 100), (57.6, 100), (57.9, 22), (58.2, 8), (59.3, 8),
               (59.8, 11), (60.4, 16), (60.9, 33), (61.5, 36), (62.1, 38.5), (62.6, 50), (63.7, 100),
               (69.6, 100), (69.8, 66), (70.4, 30), (71.5, 27), (73.2, 27), (73.4, 100), (76.5, 100),
               (76.8, 0), (77.1, 100), (78.2, 100), (78.4, 38.5), (79.3, 41), (79.8, 50), (80.4, 100),
               (83.2, 100), (83.5, 94), (83.7, 100), (91.8, 100), (91.9, 0), (92.8, 0), (93.0, 100),
               (96.2, 100), (96.5, 36), (97.1, 30), (97.6, 25), (98.2, 36), (98.7, 44), (99.3, 41), (99.8, 66),
               (100.4, 66), (100.9, 78), (101.5, 100), (103.7, 100), (104.0, 89), (104.3, 78), (104.6, 100),
               (105.4, 100), (105.7, 80), (106.5, 100), (113.4, 100), (114.3, 64), (114.8, 55), (115.4, 61),
               (115.9, 72), (116.5, 78), (117.1, 94), (117.6, 100), (126.2, 100), (126.8, 80), (127.6, 72),
               (128.2, 44), (128.7, 33), (129.3, 22), (129.8, 30), (130.4, 38.5), (131.0, 27), (131.5, 25),
               (132.1, 27), (132.6, 36), (133.2, 50), (133.7, 78), (134.0, 100), (134.3, 89), (134.8, 94),
               (135.4, 80), (135.9, 100), (142.1, 100), (142.6, 83), (143.2, 100), (143.7, 83), (144.8, 83),
               (145.1, 100), (149.6, 100), (149.8, 3)]
p4_used = [(0, 0.5), (11.2, 0.5), (11.4, 15), (13.2, 15), (13.4, 100), (13.7, 100), (14.0, 0), (14.3, 50),
           (16.5, 50), (16.7, 0), (17.1, 0), (17.2, 100), (17.5, 100), (17.6, 0), (17.9, 100), (18.1, 0),
           (28.7, 0), (28.8, 5), (29.8, 8), (30.4, 11), (30.9, 9), (31.5, 12), (32.6, 13), (33.7, 11),
           (34.8, 12), (35.4, 16), (36.0, 13), (36.5, 19), (37.1, 25), (37.3, 13), (37.6, 0), (38.7, 0),
           (39.0, 6), (40.9, 6), (41.2, 0), (42.6, 0), (42.9, 11), (43.2, 16), (43.7, 13), (44.3, 19),
           (44.8, 13), (45.4, 17.6), (45.7, 0), (46.0, 20), (46.2, 33), (46.5, 20), (47.1, 13), (47.6, 22),
           (48.1, 11), (48.7, 16), (49.0, 0), (49.3, 6), (54.8, 6), (55.1, 22), (55.7, 22), (55.9, 0),
           (81.8, 0), (82.1, 38.5), (82.6, 38.5), (83.2, 33), (83.7, 25), (84.3, 19), (84.9, 19), (85.4, 0),
           (87.6, 0), (87.9, 12), (91.8, 12), (92.1, 0), (93.0, 0), (93.2, 50), (93.4, 11), (93.7, 27),
           (94.3, 33), (94.8, 13), (95.4, 11), (95.9, 5), (96.5, 0), (99.8, 0), (100.4, 11), (102.1, 11),
           (102.3, 15), (102.9, 8), (103.2, 0), (104.6, 0), (104.8, 25), (106.5, 25), (106.8, 100),
           (107.1, 0), (107.3, 100), (108.2, 100), (108.4, 78), (108.7, 50), (109.3, 33), (113.4, 33),
           (113.6, 50), (113.7, 16), (114.0, 11), (114.3, 22), (114.8, 13), (115.4, 6), (116.5, 8), (117.6, 9),
           (118.7, 8), (119.8, 9), (121.0, 11), (122.1, 12), (122.6, 15), (123.2, 8), (123.7, 1), (125.4, 0),
           (125.9, 5), (126.5, 8), (128.7, 9), (129.0, 1), (153.7, 1)]

# colours
C_RUNNING = '#808080'
C_OFFLINE = '#282828'
C_INTERF = '#ff0000'
C_TOTAL = '#ffffff'
C_VALID = '#ffb400'
C_INVOLVED = '#00ee00'
C_USED = '#0a7df0'
TXT = '#d2d2d2'


def xy(pairs):
    arr = np.array(pairs, dtype=float)
    order = np.argsort(arr[:, 0], kind='stable')
    return arr[order, 0], arr[order, 1]


def px(x, y):
    return x / W, 1 - y / H


fig = plt.figure(figsize=(W / 100, H / 100), dpi=100, facecolor=BG)

# title and legend
fig.text(*px(3, 7), title, color='white', fontsize=7.8, fontweight='bold', family=FONT, va='center')
fig.text(*px(3, 37), 'Background colors:', color='white', fontsize=7.8, fontweight='bold', family=FONT, va='center')
fig.text(*px(362, 37), 'Signals line colors:', color='white', fontsize=7.8, fontweight='bold', family=FONT, va='center')

legend_rows = [
    (3, 52, '#000000', 'unknown'), (3, 67, '#262626', 'offline'), (3, 82, '#4caf50', 'idle'),
    (3, 97, C_RUNNING, 'running'), (3, 112, C_INTERF, 'interference mode'),
    (184, 37, '#ff7f00', 'invalid data'), (184, 52, '#ffff00', 'invalid signal'), (184, 67, '#0000ff', 'bad gps'),
    (184, 82, '#00ffff', 'no amplifiers connected'), (184, 97, '#ff00ff', 'controller fault'),
    (184, 112, '#ff4080', 'communication error'),
    (362, 52, C_TOTAL, 'total (max = %d)' % total_max), (362, 67, C_VALID, 'valid/total'),
    (362, 82, C_INVOLVED, 'involved/valid'), (362, 97, C_USED, 'used/involved'),
]
for x, y, col, lab in legend_rows:
    x0, y0 = px(x + 0.5, y + 4)
    fig.add_artist(Rectangle((x0, y0), 8 / W, 8 / H, transform=fig.transFigure,
                             facecolor=col, edgecolor='#e0e0e0', lw=0.8))
    fig.text(*px(x + 14, y), lab, color=TXT, fontsize=7.8, family=FONT, va='center')

panels = [
    (p1_days, p1_running, p1_offline, p1_interf, p1_total, p1_valid, p1_involved, p1_used),
    (p2_days, p2_running, p2_offline, p2_interf, p2_total, p2_valid, p2_involved, p2_used),
    (p3_days, p3_running, p3_offline, p3_interf, p3_total, p3_valid, p3_involved, p3_used),
    (p4_days, p4_running, p4_offline, p4_interf, p4_total, p4_valid, p4_involved, p4_used),
]

for k, (days, running, offline, interf, total, valid, involved, used) in enumerate(panels):
    bottom = 250 + 160 * k
    ax = fig.add_axes([41 / W, 1 - bottom / H, 1008 / W, 120 / H])
    ax.set_facecolor(BG)
    ax.set_xlim(0, 168)
    ax.set_ylim(0, 100)

    # background states
    ax.axvspan(running[0], running[1], color=C_RUNNING, lw=0, zorder=0)
    for a, b in offline:
        ax.axvspan(a, b, color=C_OFFLINE, lw=0, zorder=0.5)
    for a, b in interf:
        ax.axvspan(a, b, color=C_INTERF, lw=0, zorder=0.6)

    # ratio lines on the left axis
    for data, col in [(valid, C_VALID), (involved, C_INVOLVED), (used, C_USED)]:
        hx, hv = xy(data)
        ax.plot(hx, hv, color=col, lw=1.4, clip_on=False, zorder=3)

    # total on the right axis
    ax2 = ax.twinx()
    ax2.set_ylim(0, total_max)
    hx, hv = xy(total)
    ax2.plot(hx, hv, color=C_TOTAL, lw=1.4, clip_on=False, zorder=3)

    for s in ['top', 'right']:
        ax.spines[s].set_visible(False)
    for s in ['top', 'left', 'bottom']:
        ax2.spines[s].set_visible(False)
    ax.spines['left'].set_color('white')
    ax.spines['bottom'].set_color('white')
    ax.spines['bottom'].set_linewidth(1.3)
    ax2.spines['right'].set_color('white')

    # left axis
    ax.set_yticks([0, 100], ['0%', '100%'])
    ax.set_yticks(np.arange(10, 100, 10), minor=True)
    ax.tick_params(axis='y', which='both', length=3, width=1, colors='white',
                   labelsize=7.3, pad=4)
    for t in ax.get_yticklabels():
        t.set_family(FONT)

    # right axis
    ax2.set_yticks([total_max * i / 5 for i in range(6)],
                   ['%d' % round(total_max * i / 5) for i in range(6)])
    ax2.set_yticks([total_max * i / 10 for i in range(1, 10, 2)], minor=True)
    ax2.tick_params(axis='y', which='both', length=3, width=1, colors='white',
                    labelsize=7.3, pad=4)
    for t in ax2.get_yticklabels():
        t.set_family(FONT)

    # time axis
    ax.set_xticks(np.arange(0, 169, 24), [''] * 8)
    ax.set_xticks([h for h in range(1, 168) if h % 24], minor=True)
    ax.tick_params(axis='x', which='major', length=17, width=1.5, colors='white')
    ax.tick_params(axis='x', which='minor', length=2.5, width=0.8, colors='white')
    tr = ax.get_xaxis_transform()
    for d, lab in enumerate(days):
        for h in (6, 12, 18):
            ax.text(d * 24 + h, -0.075, str(h), transform=tr, ha='center', va='center',
                    fontsize=5, color='white', family=FONT)
        ax.text(d * 24 + 0.6, -0.175, lab, transform=tr, ha='left', va='center',
                fontsize=7.3, color='white', family=FONT)

fig.savefig('out.png', dpi=100, facecolor=BG)
